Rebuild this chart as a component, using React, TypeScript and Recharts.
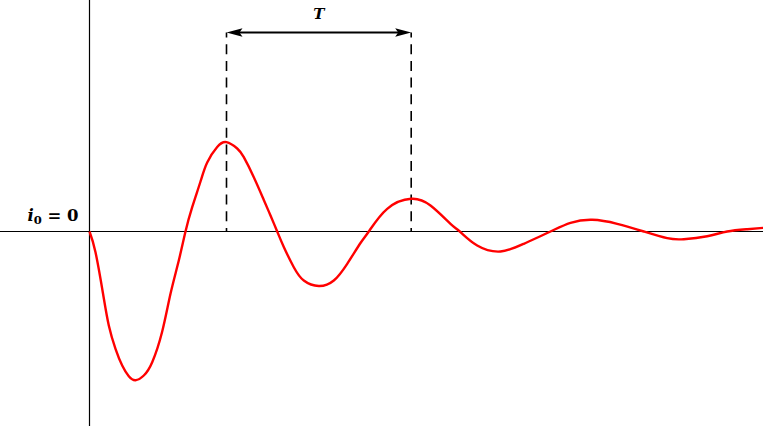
import React from "react";
import { LineChart, Line, XAxis, YAxis, ReferenceLine, ReferenceDot } from "recharts";

// time (ms) and current (arbitrary units)
const time = [
  0, 0.6, 1.35, 1.93, 2.6, 3.27, 3.93, 4.6, 5.43, 6.27, 7.27, 8.1, 8.93, 9.6,
  10.27, 11.1, 11.77, 12.77, 13.7, 14.77, 15.43, 16.43, 17.43, 18.1, 18.77,
  19.43, 20.43, 21.43, 22.93, 24.43, 25.77, 27.1, 27.93, 29.77, 32.17, 34.1,
  36.1, 37.03, 38.77, 41.1, 43.43, 46.1, 48.1, 50.27, 52.77, 55.43, 57.77,
  59.43, 61.77, 63.77, 65.77, 67.4,
];
const current = [
  0, -2.07, -6.2, -9.4, -11.73, -13.4, -14.47, -14.87, -14.4, -13.07, -10.0,
  -6.23, -2.9, 0, 2.43, 5.0, 6.9, 8.45, 8.93, 8.3, 7.43, 5.43, 3.15, 1.6, 0,
  -1.55, -3.57, -4.9, -5.45, -4.9, -3.23, -1.15, 0, 2.27, 3.27, 2.6, 0.77, 0,
  -1.4, -2.0, -1.23, 0, 0.87, 1.17, 0.77, 0, -0.67, -0.77, -0.47, 0, 0.23, 0.37,
];
const peakTimes = [13.7, 32.17];
const arrowLevel = 19.9;
const periodLabel = "T";
const zeroLabel = { name: "i", sub: "0", rest: " = 0" };

const xDomain = [-8.95, 67.35];
const yDomain = [-19.45, 23.15];

const data = time.map((t, k) => ({ t, i: current[k] }));

const FONT = "'DejaVu Serif', 'Liberation Serif', serif";

const ArrowShape = (p: any) => {
  const { x1, y1, x2, y2 } = p;
  const len = 16;
  const hw = 4.2;
  return (
    <g>
      <line x1={x1 + 6} y1={y1} x2={x2 - 6} y2={y2} stroke="#000" strokeWidth={2} />
      <polygon points={`${x1},${y1} ${x1 + len},${y1 - hw} ${x1 + len - 3},${y1} ${x1 + len},${y1 + hw}`} fill="#000" />
      <polygon points={`${x2},${y2} ${x2 - len},${y2 - hw} ${x2 - len + 3},${y2} ${x2 - len},${y2 + hw}`} fill="#000" />
    </g>
  );
};

const ZeroLabel = (p: any) => (
  <text
    x={p.cx}
    y={p.cy}
    textAnchor="end"
    fontFamily={FONT}
    fontWeight="bold"
    fontSize={16.5}
    fill="#000"
  >
    <tspan fontStyle="italic">{zeroLabel.name}</tspan>
    <tspan fontSize={11.5} dy={3}>{zeroLabel.sub}</tspan>
    <tspan dy={-3}>{zeroLabel.rest}</tspan>
  </text>
);

const TLabel = (p: any) => (
  <text
    x={p.cx}
    y={p.cy}
    textAnchor="middle"
    fontFamily={FONT}
    fontWeight="bold"
    fontStyle="italic"
    fontSize={15}
    fill="#000"
  >
    {periodLabel}
  </text>
);

export default function App() {
  return (
    <div style={{ position: "absolute", left: 0, top: 0, width: 763, height: 426, background: "#fff" }}>
      <LineChart width={763} height={426} data={data} margin={{ top: 0, right: 0, bottom: 0, left: 0 }}>
        <XAxis dataKey="t" type="number" domain={xDomain} allowDataOverflow hide />
        <YAxis type="number" domain={yDomain} allowDataOverflow hide />
        <ReferenceLine x={0} stroke="#000" strokeWidth={1.2} />
        <ReferenceLine y={0} stroke="#000" strokeWidth={1.2} />
        {peakTimes.map((pt) => (
          <ReferenceLine
            key={pt}
            segment={[{ x: pt, y: arrowLevel }, { x: pt, y: 0 }]}
            stroke="#000"
            strokeWidth={1.6}
            strokeDasharray="10 6.7"
            strokeDashoffset={5}
          />
        ))}
        <ReferenceLine
          segment={[{ x: peakTimes[0], y: arrowLevel }, { x: peakTimes[1], y: arrowLevel }]}
          shape={ArrowShape}
        />
        <ReferenceDot x={-1.1} y={1.1} r={0} shape={ZeroLabel} />
        <ReferenceDot x={(peakTimes[0] + peakTimes[1]) / 2} y={21.27} r={0} shape={TLabel} />
        <Line
          dataKey="i"
          type="natural"
          stroke="#ff0000"
          strokeWidth={2.4}
          dot={false}
          activeDot={false}
          isAnimationActive={false}
        />
      </LineChart>
    </div>
  );
}
